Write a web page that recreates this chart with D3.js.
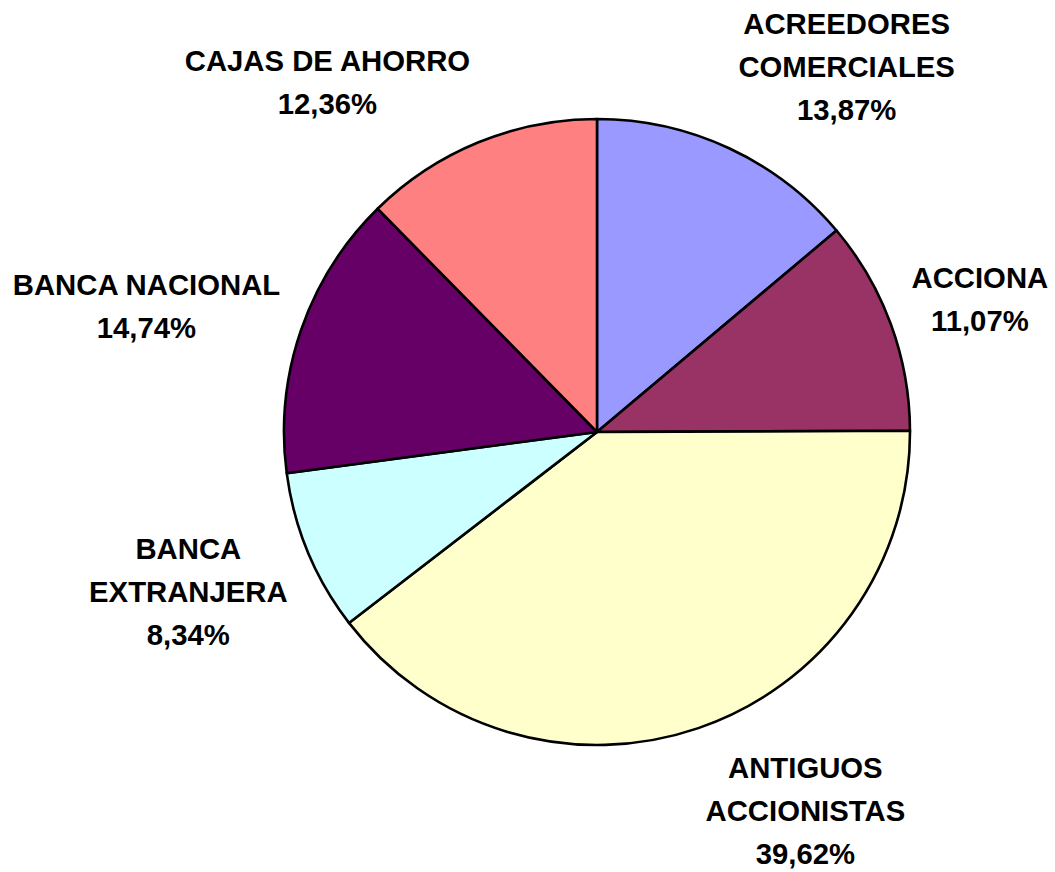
<!DOCTYPE html>
<html>
<head>
<meta charset="utf-8">
<script src="https://d3js.org/d3.v7.min.js"></script>
<style>
  html, body { margin: 0; padding: 0; background: #ffffff; }
  svg { display: block; }
</style>
</head>
<body>
<svg id="chart" width="1055" height="872"></svg>
<script>
// ---- Data ----
const categories = [
  ["ACREEDORES", "COMERCIALES"],
  ["ACCIONA"],
  ["ANTIGUOS", "ACCIONISTAS"],
  ["BANCA", "EXTRANJERA"],
  ["BANCA NACIONAL"],
  ["CAJAS DE AHORRO"]
];
const values = [13.87, 11.07, 39.62, 8.34, 14.74, 12.36];
const valueLabels = ["13,87%", "11,07%", "39,62%", "8,34%", "14,74%", "12,36%"];
const colors = ["#9999FF", "#993366", "#FFFFCC", "#CCFFFF", "#660066", "#FF8080"];

// ---- Layout ----
const W = 1055, H = 872;
const cx = 597, cy = 432, radius = 313;
const fontSize = 29.3, lineGap = 43, capH = fontSize * 0.716;
const labelR = 335;

const svg = d3.select("#chart");
const g = svg.append("g").attr("transform", `translate(${cx},${cy})`);

const data = values.map((v, i) => ({ value: v, lines: categories[i].concat([valueLabels[i]]), color: colors[i] }));

const pie = d3.pie().value(d => d.value).sort(null).startAngle(0).endAngle(2 * Math.PI);
const arc = d3.arc().innerRadius(0).outerRadius(radius);
const arcs = pie(data);

g.selectAll("path.slice")
  .data(arcs)
  .join("path")
  .attr("class", "slice")
  .attr("d", arc)
  .attr("fill", d => d.data.color)
  .attr("stroke", "#000")
  .attr("stroke-width", 2.6)
  .attr("stroke-linejoin", "round");

// ---- Labels (outside end, Excel-like anchoring) ----
const clamp = (v) => Math.max(-1, Math.min(1, v));
arcs.forEach(d => {
  const a = (d.startAngle + d.endAngle) / 2;
  const s = Math.sin(a), c = Math.cos(a);
  const px = labelR * s, py = -labelR * c;
  const t = g.append("text")
    .attr("font-family", "'Liberation Sans', Arial, sans-serif")
    .attr("font-weight", "bold")
    .attr("font-size", fontSize)
    .attr("fill", "#000")
    .attr("text-anchor", "middle");
  const lines = d.data.lines;
  lines.forEach((ln, i) => {
    t.append("tspan").attr("x", 0).attr("y", i * lineGap).text(ln);
  });
  let wMax = 0;
  t.selectAll("tspan").each(function() { wMax = Math.max(wMax, this.getComputedTextLength()); });
  const hBlock = capH + (lines.length - 1) * lineGap;
  const boxCx = px + Math.sign(s) * wMax / 2;
  const boxCy = py - clamp(1.3 * c) * (hBlock / 2 + 8);
  // first baseline = center - hBlock/2 + capH
  const firstBase = boxCy - hBlock / 2 + capH;
  t.attr("transform", `translate(${boxCx},${firstBase})`);
});
</script>
</body>
</html>
